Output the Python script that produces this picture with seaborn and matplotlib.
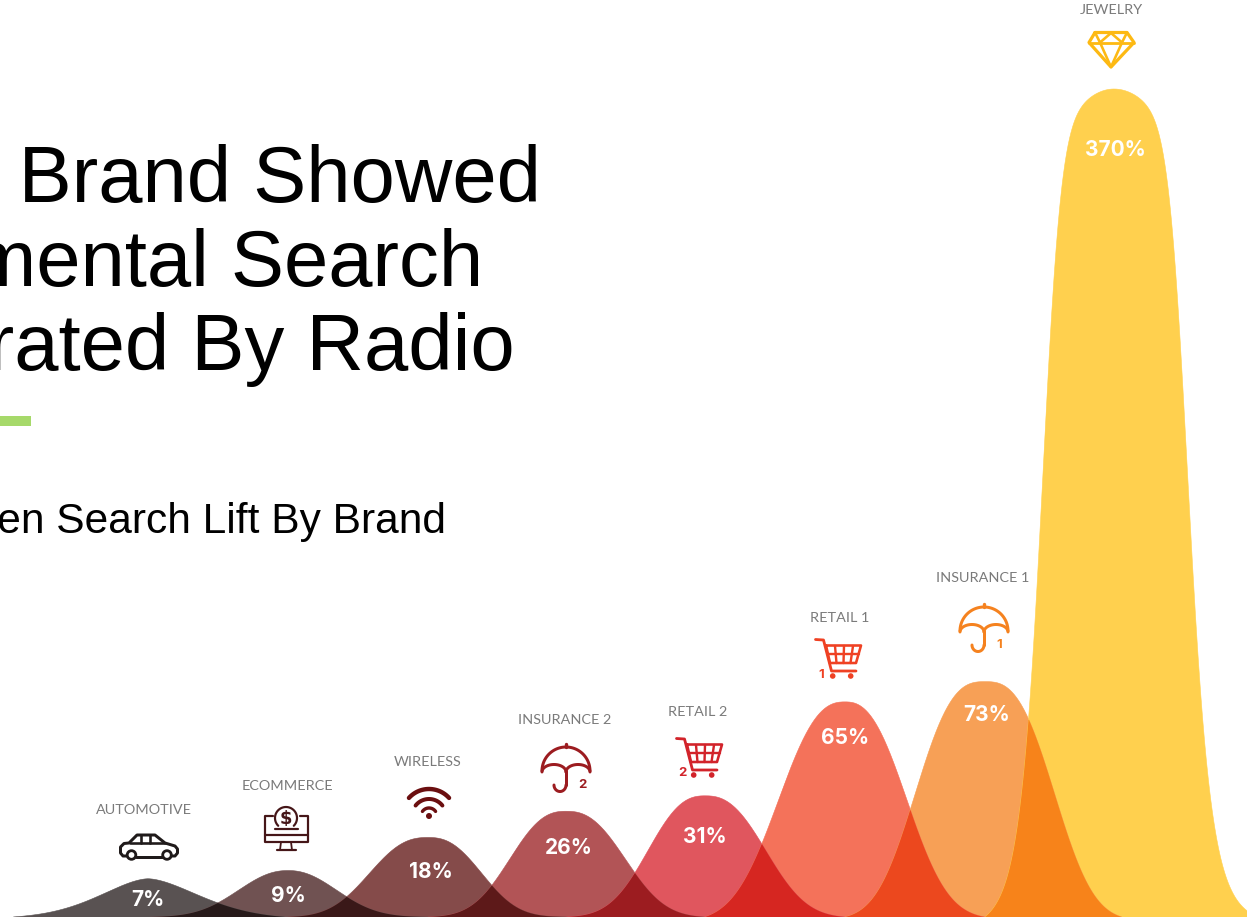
import numpy as np
import pandas as pd
import matplotlib
matplotlib.use("Agg")
import matplotlib.pyplot as plt
from matplotlib.patches import Circle, Rectangle
import seaborn as sns

# Lift per brand
brands = ["AUTOMOTIVE", "ECOMMERCE", "WIRELESS", "INSURANCE 2", "RETAIL 2", "RETAIL 1", "INSURANCE 1", "JEWELRY"]
lift = [7, 9, 18, 26, 31, 65, 73, 370]
value_labels = ["7%", "9%", "18%", "26%", "31%", "65%", "73%", "370%"]
title_lines = ["Each Brand Showed", "Incremental Search", "Generated By Radio"]
subtitle = "Listen Search Lift By Brand"

# Curve geometry, in pixels along the x axis
centers = [148, 288, 428, 566, 705, 845, 985, 1114]
foot_left = [13, 150, 288, 428, 566, 705, 845, 985]
foot_right = [285, 428, 568, 705, 845, 985, 1122, 1258]
width_left = [69, 65, 72, 69, 70, 82, 82, 75]
width_right = [74, 64, 66, 73, 75, 76, 82, 77.5]
sharpness = [1.7, 2.2, 2.5, 2.5, 2.5, 2.5, 2.8, 7.0]
long_shoulder = [False] * 7 + [True]

fill_colors = ["#595252", "#705252", "#854b4a", "#b25456", "#e0565e", "#f4725a", "#f7a056", "#ffd04e"]
icon_colors = ["#1f1a1a", "#451618", "#6b0f10", "#9c1c20", "#d2232a", "#ef4123", "#f5821f", "#fdb913"]

W, H = 1247, 917
GAMMA = 0.775  # the height axis is a power scale
PEAK_PX = 828


def bell(x, c, xl, xr, wl, wr, q, shoulder):
    """Unit-height bump that falls to zero exactly at its two feet."""
    if shoulder:
        # tall narrow dome: steep flanks under a gently rounded crown
        kernel = lambda r: np.exp(-0.1 * r ** 2) / (1 + r ** q)
    else:
        kernel = lambda r: np.exp(-(r ** q))
    out = np.zeros_like(x)
    for mask, foot, w in ((x <= c, xl, wl), (x > c, xr, wr)):
        s = kernel(np.abs(x[mask] - c) / w)
        end = kernel(abs(foot - c) / w)
        out[mask] = np.clip((s - end) / (1 - end), 0, 1)
    return out


def multiply(c1, c2):
    a, b = np.array(matplotlib.colors.to_rgb(c1)), np.array(matplotlib.colors.to_rgb(c2))
    return tuple(a * b)


sns.set_theme(style="white")
fig = plt.figure(figsize=(W / 100, H / 100), dpi=100, facecolor="white")
ax = fig.add_axes([0, 0, 1, 1])
ax.set_yscale("function", functions=(lambda v: np.power(np.clip(v, 0, None), GAMMA),
                                     lambda v: np.power(np.clip(v, 0, None), 1 / GAMMA)))

xs = np.linspace(0, W, 2495)
curves = []
frames = []
for i, value in enumerate(lift):
    s = bell(xs, centers[i], foot_left[i], foot_right[i], width_left[i], width_right[i], sharpness[i], long_shoulder[i])
    y = value * s ** (1 / GAMMA)
    curves.append(y)
    keep = y > 0
    frames.append(pd.DataFrame({"x": xs[keep], "lift": y[keep], "brand": brands[i]}))
df = pd.concat(frames, ignore_index=True)

sns.lineplot(data=df, x="x", y="lift", hue="brand", hue_order=brands, palette=fill_colors,
             estimator=None, sort=False, linewidth=0.4, legend=False, ax=ax, zorder=2)
for y, color in zip(curves, fill_colors):
    ax.fill_between(xs, 0, y, color=color, linewidth=0, zorder=1)
# Neighbouring bumps darken each other where they overlap
for i in range(len(curves) - 1):
    ax.fill_between(xs, 0, np.minimum(curves[i], curves[i + 1]),
                    color=multiply(fill_colors[i], fill_colors[i + 1]), linewidth=0, zorder=3)

ax.set_xlim(0, W)
scale_a = PEAK_PX / max(lift) ** GAMMA
ax.set_ylim(0, (H / scale_a) ** (1 / GAMMA))
ax.set_axis_off()

# Overlay in pixel coordinates for type and pictograms
ov = fig.add_axes([0, 0, 1, 1], zorder=5)
ov.set_xlim(0, W)
ov.set_ylim(H, 0)
ov.set_axis_off()
ov.patch.set_alpha(0)

PX = 0.72


def stroke(xy, color, lw=2.0, closed=False):
    pts = np.array(xy, dtype=float)
    if closed:
        pts = np.vstack([pts, pts[:1]])
    ov.plot(pts[:, 0], pts[:, 1], color=color, lw=lw * PX, solid_capstyle="round",
            solid_joinstyle="round", zorder=6)


def arc(cx, cy, rx, ry, a0, a1, color, lw=2.0):
    t = np.radians(np.linspace(a0, a1, 60))
    stroke(np.c_[cx + rx * np.cos(t), cy + ry * np.sin(t)], color, lw)


def car(color):
    stroke([(127, 856), (123, 856), (120.5, 853), (120.5, 847), (124, 843.5), (129, 843), (137, 835), (155, 835),
            (165, 843), (175, 846), (177.5, 849), (177.5, 853), (175, 856), (172, 856)], color, 3.0)
    stroke([(136, 856.5), (162, 856.5)], color, 3.0)
    stroke([(130, 843), (165, 843)], color, 2.6)
    stroke([(141, 835), (141, 843)], color, 2.6)
    stroke([(150, 835), (150, 843)], color, 2.6)
    for cx in (131.5, 167):
        ov.add_patch(Circle((cx, 855), 4.3, fc="white", ec=color, lw=2.8 * PX, zorder=6))


def monitor(color):
    stroke([(273, 815.5), (265, 815.5), (265, 842), (308, 842), (308, 815.5), (300, 815.5)], color, 2.2)
    stroke([(265, 835), (308, 835)], color, 2.2)
    stroke([(281, 842), (280, 850)], color, 1.8)
    stroke([(291, 842), (292, 850)], color, 1.8)
    stroke([(276.5, 850), (296, 850)], color, 2.2)
    stroke([(275, 829), (298, 829)], color, 2.2)
    arc(286, 818, 11, 11, 135, 405, color, 2.2)
    ov.text(286, 818.5, "$", color=color, fontsize=13, fontweight="bold", family="DejaVu Sans",
            ha="center", va="center", zorder=6)


def wifi(color):
    cx, cy = 429, 816
    arc(cx, cy, 27, 27, 222, 318, color, 4.4)
    arc(cx, cy, 17, 17, 218, 322, color, 4.0)
    arc(cx, cy, 8, 8, 215, 325, color, 3.4)
    ov.add_patch(Circle((cx, cy), 3.0, color=color, lw=0, zorder=6))


def umbrella(cx, top, color, digit, digit_x):
    y = top + 28
    arc(cx, y, 24, 24, 180, 360, color, 3.0)
    stroke([(cx, top + 1), (cx, top + 4)], color, 3.4)
    arc(cx - 12, y + 1, 12, 7.5, 180, 360, color, 3.0)
    arc(cx + 12, y + 1, 12, 7.5, 180, 360, color, 3.0)
    stroke([(cx, y), (cx, y + 14)], color, 3.0)
    arc(cx - 6, y + 14, 6, 6.5, 0, 180, color, 3.0)
    ov.text(digit_x, y + 14, digit, color=color, fontsize=9.5, fontweight="bold", family="Inter",
            ha="center", va="center", zorder=6)


def cart(dx, dy, color, digit):
    p = lambda x, y: (x + dx, y + dy)
    stroke([p(676.5, 738.5), p(684.5, 739), p(692.5, 770), p(717, 770)], color, 2.8)
    stroke([p(687, 744.5), p(722, 744.5), p(717, 762), p(691, 762), p(687, 744.5)], color, 2.6)
    stroke([p(689, 753), p(720, 753)], color, 2.4)
    for top, bottom in ((696, 697.5), (705, 704.5), (714, 711.5)):
        stroke([p(top, 745), p(bottom, 762)], color, 2.4)
    for cx in (693.7, 711.7):
        ov.add_patch(Circle(p(cx, 775), 2.8, color=color, lw=0, zorder=6))
    ov.text(*p(682.7, 773.5), digit, color=color, fontsize=9.5, fontweight="bold", family="Inter",
            ha="center", va="center", zorder=6)


def diamond(color):
    stroke([(1095, 32.5), (1127, 32.5), (1134, 42.5), (1111, 67), (1089, 42.5)], color, 3.2, closed=True)
    stroke([(1089, 42.5), (1134, 42.5)], color, 2.8)
    stroke([(1095, 32.5), (1100, 42.5), (1111, 33), (1122, 42.5), (1127, 32.5)], color, 2.6)
    stroke([(1100, 42.5), (1111, 67), (1122, 42.5)], color, 2.6)


car(icon_colors[0])
monitor(icon_colors[1])
wifi(icon_colors[2])
umbrella(566, 743, icon_colors[3], "2", 582)
cart(0, 0, icon_colors[4], "2")
cart(139, -99, icon_colors[5], "1")
umbrella(984, 603, icon_colors[6], "1", 999)
diamond(icon_colors[7])

# Brand names above the pictograms
name_xy = [(144, 809.5), (287, 785.5), (428, 761.5), (565, 719.5), (698, 712.5), (840, 617.5), (983, 577.5), (1111, 10.5)]
for name, (x, y) in zip(brands, name_xy):
    ov.text(x, y, name, family="Lato", fontsize=10.4, color="#7a7a7a",
            ha="center", va="center", zorder=6)

# Percentages inside the bumps
value_xy = [(148, 900), (288, 896), (431, 872), (569, 848), (705, 837), (845, 738), (987, 715), (1115, 150)]
for text, (x, y) in zip(value_labels, value_xy):
    ov.text(x, y, text, family="Inter", fontweight="bold", fontsize=15, color="white",
            ha="center", va="center", zorder=7)

# Heading block, running off the left edge
for line, right, base in zip(title_lines, (541, 483, 515), (202, 286, 370)):
    ov.text(right, base, line, family="Liberation Sans", fontsize=57.3, color="black", ha="right", va="baseline")
ov.text(446, 533, subtitle, family="Liberation Sans", fontsize=30.6, color="black", ha="right", va="baseline")
ov.add_patch(Rectangle((0, 416), 31, 10, color="#a6d96a", lw=0))

fig.savefig("out.png", dpi=100, facecolor="white")
